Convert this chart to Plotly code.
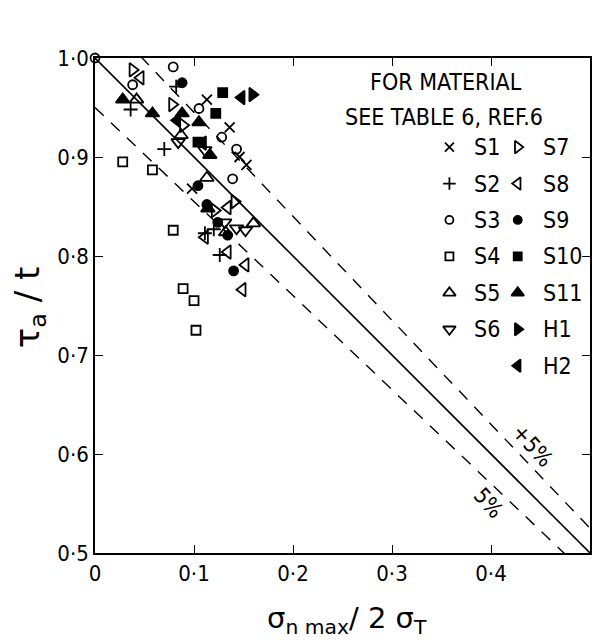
import plotly.graph_objects as go

# ---------------- data ----------------
S1_X = [0.037, 0.113, 0.136, 0.146, 0.153, 0.098]
S1_Y = [1.010, 0.958, 0.930, 0.900, 0.892, 0.868]
S2_X = [0.082, 0.036, 0.070, 0.111, 0.120, 0.126]
S2_Y = [0.971, 0.948, 0.908, 0.823, 0.827, 0.801]
S3_X = [0.000, 0.079, 0.038, 0.105, 0.128, 0.143, 0.139]
S3_Y = [1.000, 0.991, 0.973, 0.949, 0.920, 0.908, 0.878]
S4_X = [0.028, 0.058, 0.079, 0.089, 0.100, 0.102]
S4_Y = [0.895, 0.887, 0.826, 0.767, 0.755, 0.725]
S5_X = [0.042, 0.087, 0.113, 0.160, 0.132]
S5_Y = [0.958, 0.922, 0.879, 0.833, 0.824]
S6_X = [0.084, 0.111, 0.131, 0.143, 0.152]
S6_Y = [0.915, 0.907, 0.834, 0.828, 0.826]
S7_X = [0.038, 0.078, 0.089, 0.121, 0.141]
S7_Y = [0.988, 0.953, 0.932, 0.846, 0.855]
S8_X = [0.046, 0.111, 0.134, 0.152, 0.149, 0.134]
S8_Y = [0.980, 0.819, 0.804, 0.791, 0.766, 0.849]
S9_X = [0.043, 0.088, 0.104, 0.113, 0.124, 0.134, 0.140]
S9_Y = [1.001, 0.975, 0.871, 0.852, 0.834, 0.821, 0.785]
S10_X = [0.030, 0.070, 0.099, 0.129, 0.122, 0.104]
S10_Y = [1.036, 1.037, 1.043, 0.965, 0.944, 0.915]
S11_X = [0.028, 0.058, 0.088, 0.105, 0.116, 0.114]
S11_Y = [0.958, 0.944, 0.944, 0.935, 0.902, 0.848]
H1_X = [0.113, 0.159]
H1_Y = [1.005, 0.963]
H2_X = [0.083, 0.109, 0.148]
H2_Y = [0.937, 0.914, 0.960]

SERIES_NAMES = ["S1", "S2", "S3", "S4", "S5", "S6", "S7", "S8", "S9", "S10", "S11", "H1", "H2"]
SERIES_X = [S1_X, S2_X, S3_X, S4_X, S5_X, S6_X, S7_X, S8_X, S9_X, S10_X, S11_X, H1_X, H2_X]
SERIES_Y = [S1_Y, S2_Y, S3_Y, S4_Y, S5_Y, S6_Y, S7_Y, S8_Y, S9_Y, S10_Y, S11_Y, H1_Y, H2_Y]

# reference lines: tau_a/t = k * (1 - x)
LINE_X = [0.0, 0.5]
LINE_FACTORS = [1.0, 1.05, 0.95]

X_TICKS = [0, 0.1, 0.2, 0.3, 0.4, 0.5]
X_TICK_TEXT = ["0", "0·1", "0·2", "0·3", "0·4", "0·5"]
Y_TICKS = [0.5, 0.6, 0.7, 0.8, 0.9, 1.0]
Y_TICK_TEXT = ["0·5", "0·6", "0·7", "0·8", "0·9", "1·0"]

# ---------------- styles ----------------
FONT = "Liberation Sans Narrow, DejaVu Sans Condensed, Roboto Condensed, Arial Narrow, Liberation Sans, sans-serif"
SYMBOLS = {
    "S1": ("x-thin-open", 10), "S2": ("cross-thin-open", 10), "S3": ("circle-open", 9),
    "S4": ("square-open", 9), "S5": ("triangle-up-open", 12), "S6": ("triangle-down-open", 12),
    "S7": ("triangle-right-open", 12), "S8": ("triangle-left-open", 12), "S9": ("circle", 9),
    "S10": ("square", 9), "S11": ("triangle-up", 12), "H1": ("triangle-right", 12),
    "H2": ("triangle-left", 12),
}

fig = go.Figure()

# reference lines
for k in LINE_FACTORS:
    ys = [k * (1 - x) for x in LINE_X]
    fig.add_trace(go.Scatter(
        x=LINE_X, y=ys, mode="lines",
        line=dict(color="black", width=1.6 if k == 1.0 else 1.4,
                  dash="solid" if k == 1.0 else "12px,10px"),
        showlegend=False, hoverinfo="skip"))

# data
for name, xs, ys in zip(SERIES_NAMES, SERIES_X, SERIES_Y):
    sym, size = SYMBOLS[name]
    fig.add_trace(go.Scatter(
        x=xs, y=ys, mode="markers", name=name, cliponaxis=False,
        marker=dict(symbol=sym, size=size, color="black",
                    line=dict(color="black", width=1.8)),
        showlegend=False))

# hand-drawn style legend (two columns)
LEG_COL_MARK_X = [0.358, 0.427]
LEG_COL_TEXT_X = [0.381, 0.451]
LEG_ROW_Y0 = 0.910
LEG_DY = 0.0368
leg_cols = [SERIES_NAMES[:6], SERIES_NAMES[6:]]
for ci, names in enumerate(leg_cols):
    for ri, name in enumerate(names):
        sym, size = SYMBOLS[name]
        yy = LEG_ROW_Y0 - ri * LEG_DY
        fig.add_trace(go.Scatter(
            x=[LEG_COL_MARK_X[ci]], y=[yy], mode="markers", cliponaxis=False,
            marker=dict(symbol=sym, size=size - 1, color="black",
                        line=dict(color="black", width=1.8)),
            showlegend=False, hoverinfo="skip"))
        fig.add_annotation(x=LEG_COL_TEXT_X[ci], y=yy, text=name, showarrow=False,
                           xanchor="left", yanchor="middle",
                           font=dict(family=FONT, size=23, color="black"))

fig.add_annotation(x=0.355, y=0.976, text="FOR MATERIAL", showarrow=False,
                   xanchor="center", yanchor="middle",
                   font=dict(family=FONT, size=23, color="black"))
fig.add_annotation(x=0.353, y=0.940, text="SEE TABLE 6, REF.6", showarrow=False,
                   xanchor="center", yanchor="middle",
                   font=dict(family=FONT, size=23, color="black"))

# +/-5% labels
fig.add_annotation(x=0.442, y=0.609, text="+5%", showarrow=False, textangle=48,
                   font=dict(family=FONT, size=22, color="black"))
fig.add_annotation(x=0.397, y=0.551, text="5%", showarrow=False, textangle=48,
                   font=dict(family=FONT, size=22, color="black"))

# axis titles
fig.add_annotation(xref="paper", yref="paper", x=-0.131, y=0.495,
                   xanchor="center", yanchor="middle",
                   text="τ<sub>a</sub> / t", showarrow=False, textangle=-90,
                   font=dict(family="DejaVu Sans", size=34, color="black"))
fig.add_annotation(xref="paper", yref="paper", x=0.51, y=-0.135,
                   xanchor="center", yanchor="middle",
                   text="σ<sub>n max</sub>/ 2 σ<sub>T</sub>", showarrow=False,
                   font=dict(family="DejaVu Sans", size=29, color="black"))

axis_common = dict(showgrid=False, zeroline=False, showline=True, linecolor="black",
                   linewidth=1.6, mirror="ticks", ticks="inside", ticklen=8,
                   tickwidth=1.4, tickcolor="black",
                   tickfont=dict(family=FONT, size=22, color="black"))
fig.update_xaxes(range=[0, 0.5], tickvals=X_TICKS, ticktext=X_TICK_TEXT, **axis_common)
fig.update_yaxes(range=[0.5, 1.0], tickvals=Y_TICKS, ticktext=Y_TICK_TEXT, **axis_common)

fig.update_layout(width=603, height=641, margin=dict(l=95, r=13, t=58, b=88),
                  plot_bgcolor="white", paper_bgcolor="white", showlegend=False)

fig.write_html("out.html")
